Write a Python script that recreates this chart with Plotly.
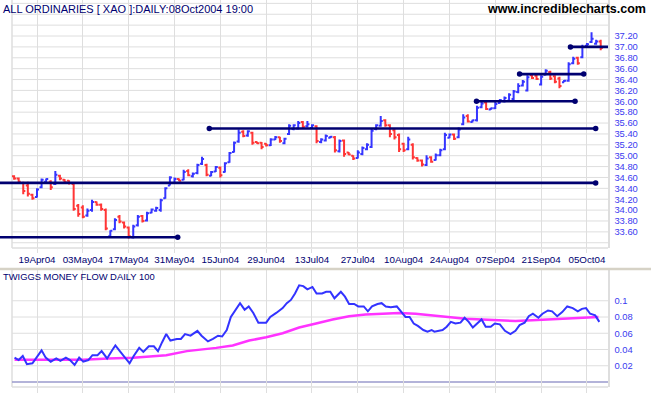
import plotly.graph_objects as go

# ---------------- data ----------------
date_labels = ["19Apr04", "03May04", "17May04", "31May04", "15Jun04", "29Jun04", "13Jul04",
               "27Jul04", "10Aug04", "24Aug04", "07Sep04", "21Sep04", "05Oct04"]
date_label_days = [0, 10, 20, 30, 40, 50, 60, 70, 80, 90, 100, 110, 120]   # trading-day index

bar_day = list(range(-5, 124))  # trading days 08Apr04 .. 08Oct04

bar_open = [
    34.62, 34.58, 34.50, 34.45, 34.28,
    34.24, 34.42, 34.52, 34.52, 34.48, 34.63, 34.56, 34.54, 34.48, 34.08,
    34.05, 33.90, 34.00, 34.15, 34.10, 34.00, 33.52, 33.65, 33.88, 33.77,
    33.68, 33.50, 33.72, 33.89, 33.81, 33.95, 33.99, 34.00, 34.22, 34.45,
    34.50, 34.57, 34.56, 34.72, 34.62, 34.68, 34.85, 34.83, 34.63, 34.71,
    34.78, 34.70, 34.88, 35.07, 35.26, 35.44, 35.37, 35.42, 35.25, 35.24,
    35.22, 35.19, 35.30, 35.34, 35.23, 35.40, 35.49, 35.50, 35.62, 35.54,
    35.51, 35.54, 35.25, 35.28, 35.33, 35.34, 35.08, 35.28, 35.06, 35.00,
    34.96, 35.03, 35.12, 35.16, 35.49, 35.55, 35.65, 35.56, 35.47, 35.38,
    35.22, 35.12, 35.20, 34.96, 34.91, 34.83, 34.97, 34.92, 35.01, 35.12,
    35.33, 35.39, 35.34, 35.58, 35.73, 35.62, 35.65, 35.89, 35.98, 35.85,
    35.87, 35.97, 36.00, 36.01, 36.04, 36.17, 36.29, 36.20, 36.48, 36.47,
    36.31, 36.49, 36.54, 36.46, 36.42, 36.35, 36.38, 36.70, 36.80, 36.81,
    37.02, 37.09, 37.06, 37.10,
]
bar_high = [
    34.64, 34.60, 34.52, 34.52, 34.30,
    34.40, 34.58, 34.58, 34.55, 34.72, 34.65, 34.57, 34.55, 34.50, 34.11,
    34.09, 34.03, 34.19, 34.16, 34.12, 34.03, 33.63, 33.85, 33.91, 33.79,
    33.70, 33.73, 33.91, 33.91, 33.97, 34.03, 34.06, 34.21, 34.42, 34.62,
    34.60, 34.58, 34.74, 34.75, 34.69, 34.85, 34.98, 34.85, 34.72, 34.81,
    34.80, 34.88, 35.07, 35.26, 35.48, 35.47, 35.47, 35.44, 35.26, 35.25,
    35.23, 35.32, 35.36, 35.35, 35.33, 35.58, 35.58, 35.64, 35.64, 35.64,
    35.58, 35.56, 35.32, 35.39, 35.36, 35.36, 35.30, 35.30, 35.07, 35.01,
    35.10, 35.17, 35.23, 35.50, 35.58, 35.73, 35.67, 35.58, 35.49, 35.41,
    35.24, 35.35, 35.23, 34.97, 34.93, 35.01, 34.99, 35.04, 35.13, 35.42,
    35.41, 35.41, 35.52, 35.76, 35.76, 35.66, 35.92, 36.01, 36.01, 35.88,
    35.99, 36.04, 36.09, 36.15, 36.21, 36.33, 36.39, 36.48, 36.50, 36.50,
    36.48, 36.59, 36.56, 36.48, 36.45, 36.39, 36.72, 36.82, 36.82, 37.04,
    37.07, 37.27, 37.13, 37.13,
]
bar_low = [
    34.56, 34.49, 34.29, 34.25, 34.19,
    34.23, 34.40, 34.50, 34.37, 34.46, 34.55, 34.49, 34.47, 33.99, 33.88,
    33.85, 33.88, 33.97, 34.08, 33.99, 33.63, 33.50, 33.63, 33.76, 33.66,
    33.48, 33.48, 33.70, 33.77, 33.79, 33.94, 33.97, 33.97, 34.21, 34.45,
    34.48, 34.53, 34.55, 34.62, 34.60, 34.66, 34.83, 34.62, 34.62, 34.70,
    34.60, 34.69, 34.87, 35.06, 35.24, 35.34, 35.35, 35.20, 35.22, 35.12,
    35.17, 35.18, 35.29, 35.24, 35.21, 35.38, 35.47, 35.48, 35.50, 35.52,
    35.50, 35.23, 35.23, 35.26, 35.32, 35.06, 35.06, 34.98, 35.01, 34.92,
    34.95, 35.01, 35.10, 35.14, 35.47, 35.53, 35.53, 35.34, 35.30, 35.07,
    35.07, 35.10, 34.93, 34.89, 34.80, 34.81, 34.87, 34.91, 34.99, 35.10,
    35.32, 35.29, 35.32, 35.56, 35.61, 35.61, 35.63, 35.87, 35.84, 35.84,
    35.86, 35.96, 35.98, 35.99, 36.02, 36.15, 36.27, 36.18, 36.41, 36.39,
    36.29, 36.48, 36.39, 36.33, 36.24, 36.35, 36.36, 36.68, 36.67, 36.79,
    37.01, 37.07, 37.04, 36.94,
]
bar_close = [
    34.58, 34.52, 34.35, 34.30, 34.22,
    34.38, 34.56, 34.57, 34.42, 34.65, 34.58, 34.52, 34.50, 34.02, 33.93,
    33.88, 33.99, 34.15, 34.10, 34.02, 33.66, 33.62, 33.82, 33.79, 33.70,
    33.52, 33.70, 33.88, 33.80, 33.94, 34.01, 34.04, 34.18, 34.40, 34.60,
    34.57, 34.54, 34.70, 34.64, 34.67, 34.83, 34.94, 34.65, 34.70, 34.79,
    34.64, 34.86, 35.05, 35.24, 35.42, 35.36, 35.45, 35.24, 35.23, 35.16,
    35.19, 35.30, 35.34, 35.27, 35.31, 35.55, 35.56, 35.60, 35.53, 35.58,
    35.56, 35.27, 35.30, 35.36, 35.35, 35.10, 35.27, 35.03, 35.02, 34.95,
    35.06, 35.14, 35.20, 35.46, 35.56, 35.64, 35.56, 35.40, 35.34, 35.12,
    35.10, 35.30, 34.97, 34.91, 34.84, 34.95, 34.89, 35.01, 35.10, 35.38,
    35.39, 35.31, 35.48, 35.70, 35.63, 35.65, 35.88, 35.96, 35.86, 35.87,
    35.95, 36.02, 36.06, 36.12, 36.18, 36.28, 36.36, 36.44, 36.43, 36.41,
    36.45, 36.56, 36.42, 36.36, 36.28, 36.38, 36.68, 36.78, 36.70, 37.00,
    37.05, 37.15, 37.10, 36.98,
]

price_ticks = [33.6, 33.8, 34.0, 34.2, 34.4, 34.6, 34.8, 35.0, 35.2, 35.4, 35.6,
               35.8, 36.0, 36.2, 36.4, 36.6, 36.8, 37.0, 37.2]

# support / resistance lines (price, start day, end day, dot at start)
level_price = [34.5, 33.5, 35.5, 36.0, 36.5, 37.0]
level_start = [-8.08, -8.08, 37.6, 95.9, 105.3, 116.4]
level_end = [121.9, 30.7, 121.9, 117.4, 119.3, 124.6]
level_start_dot = [False, False, True, True, True, True]

# Twiggs Money Flow (day position, value)
tmf_day = [-4.9, -4.0, -3.1, -2.2, -1.0, 0.1, 1.0, 1.9, 3.0, 4.2,
           5.1, 6.3, 7.2, 8.2, 9.2, 10.1, 11.2, 12.1, 13.2, 14.1,
           15.3, 16.4, 17.1, 18.2, 19.1, 20.2, 21.1, 22.3, 23.2, 24.4,
           25.5, 26.4, 27.3, 28.2, 29.1, 30.5, 31.4, 32.3, 33.5, 35.0,
           35.9, 37.3, 38.4, 39.5, 40.4, 41.4, 42.3, 43.2, 44.3, 45.3,
           46.2, 47.2, 48.3, 50.0, 50.9, 52.2, 53.6, 54.5, 55.4, 56.3,
           57.2, 58.1, 59.0, 60.1, 61.0, 62.2, 63.1, 64.0, 64.9, 66.3,
           67.2, 68.1, 69.2, 70.1, 71.3, 72.2, 73.1, 74.3, 75.2, 76.1,
           77.2, 78.5, 79.5, 80.4, 81.3, 82.2, 83.1, 84.3, 85.2, 86.1,
           86.7, 87.6, 88.5, 89.4, 90.3, 91.3, 92.4, 93.3, 94.2, 95.1,
           96.1, 97.0, 97.9, 99.0, 99.9, 101.0, 102.1, 103.3, 104.4, 105.3,
           106.4, 107.3, 108.2, 109.4, 110.3, 111.5, 112.4, 113.5, 114.6, 115.7,
           116.9, 118.0, 118.9, 119.8, 120.7, 121.8, 122.7]
tmf_val = [0.030, 0.027, 0.032, 0.022, 0.023, 0.032, 0.039, 0.030, 0.025, 0.029,
           0.026, 0.030, 0.027, 0.021, 0.030, 0.025, 0.027, 0.033, 0.033, 0.038,
           0.029, 0.039, 0.045, 0.037, 0.030, 0.023, 0.032, 0.042, 0.037, 0.044,
           0.044, 0.038, 0.049, 0.059, 0.051, 0.053, 0.053, 0.059, 0.057, 0.063,
           0.057, 0.050, 0.053, 0.057, 0.056, 0.064, 0.080, 0.088, 0.097, 0.089,
           0.093, 0.085, 0.073, 0.073, 0.080, 0.085, 0.091, 0.097, 0.101, 0.109,
           0.119, 0.118, 0.114, 0.117, 0.109, 0.109, 0.111, 0.111, 0.103, 0.111,
           0.105, 0.096, 0.096, 0.093, 0.093, 0.087, 0.093, 0.096, 0.097, 0.093,
           0.092, 0.093, 0.086, 0.080, 0.080, 0.072, 0.069, 0.064, 0.062, 0.064,
           0.062, 0.063, 0.064, 0.068, 0.074, 0.072, 0.073, 0.079, 0.074, 0.067,
           0.072, 0.077, 0.068, 0.068, 0.072, 0.071, 0.063, 0.059, 0.063, 0.070,
           0.073, 0.081, 0.084, 0.079, 0.084, 0.088, 0.087, 0.081, 0.086, 0.093,
           0.091, 0.087, 0.090, 0.091, 0.084, 0.082, 0.074]

# signal line (moving average of TMF)
sig_day = [-4.9, 1.0, 10.1, 15.5, 21.0, 28.2, 32.7, 39.1, 42.7, 46.3, 50.0, 53.6, 57.2,
           60.9, 64.5, 68.1, 71.7, 75.4, 79.0, 82.6, 86.3, 89.9, 93.5, 97.1, 100.8,
           104.4, 108.0, 111.6, 115.3, 118.9, 122.5]
sig_val = [0.0275, 0.0275, 0.0275, 0.029, 0.030, 0.033, 0.038, 0.042, 0.045, 0.051,
           0.055, 0.060, 0.067, 0.072, 0.077, 0.081, 0.083, 0.084, 0.085, 0.084,
           0.082, 0.080, 0.078, 0.077, 0.076, 0.075, 0.076, 0.077, 0.078, 0.079, 0.080]

mf_ticks = [0.02, 0.04, 0.06, 0.08, 0.1]
mf_tick_text = ["0.02", "0.04", "0.06", "0.08", "0.1"]

# ---------------- styling / layout ----------------
W, H = 651, 395
PLOT_R = 608                 # right edge of plot area in px
PX_PER_DAY = 4.583
DAY0_PX = 37                 # pixel of day 0
def px_to_day(px):
    return (px - DAY0_PX) / PX_PER_DAY

X_RANGE = [px_to_day(0), px_to_day(PLOT_R)]
FRAME_LEFT = px_to_day(12)

# top panel: px 0..248 ; price 37.0 at px 46.9, 54.4 px per point
TOP_RANGE = [37.0 - (248 - 46.9) / 54.4, 37.0 + 46.9 / 54.4]
# bottom panel: px 270..387 ; zero at px 382, 16.25 px per 0.02
BOT_RANGE = [(382 - 387) / 16.25 * 0.02, (382 - 270) / 16.25 * 0.02]

BLUE = "#3535FF"
RED = "#FF3535"
NAVY = "#000070"
GRID = "#DEDEDE"
LABEL_BLUE = "#3A3AF0"
FONT = "Liberation Sans, Arial, sans-serif"

fig = go.Figure()

fig.add_trace(go.Ohlc(
    x=bar_day, open=bar_open, high=bar_high, low=bar_low, close=bar_close,
    increasing=dict(line=dict(color=BLUE, width=2)),
    decreasing=dict(line=dict(color=RED, width=2)),
    tickwidth=0.45, hoverinfo="skip", showlegend=False,
    xaxis="x", yaxis="y",
))

for p, x0, x1, dot0 in zip(level_price, level_start, level_end, level_start_dot):
    fig.add_trace(go.Scatter(
        x=[x0, x1], y=[p, p], mode="lines", line=dict(color=NAVY, width=2.6),
        hoverinfo="skip", showlegend=False, xaxis="x", yaxis="y",
    ))
    dots_x = ([x0] if dot0 else []) + [x1]
    fig.add_trace(go.Scatter(
        x=dots_x, y=[p] * len(dots_x), mode="markers",
        marker=dict(color=NAVY, size=5.5), cliponaxis=False,
        hoverinfo="skip", showlegend=False, xaxis="x", yaxis="y",
    ))

fig.add_trace(go.Scatter(
    x=sig_day, y=sig_val, mode="lines", line=dict(color="#FF33FF", width=2.5),
    hoverinfo="skip", showlegend=False, xaxis="x2", yaxis="y2",
))
fig.add_trace(go.Scatter(
    x=tmf_day, y=tmf_val, mode="lines", line=dict(color="#3333FF", width=2),
    hoverinfo="skip", showlegend=False, xaxis="x2", yaxis="y2",
))

shapes = []
# horizontal gridlines top
g = 33.4
while g < TOP_RANGE[1]:
    shapes.append(dict(type="line", xref="x", yref="y", x0=FRAME_LEFT, x1=X_RANGE[1],
                       y0=g, y1=g, line=dict(color=GRID, width=1), layer="below"))
    g = round(g + 0.2, 2)
# horizontal gridlines bottom
for v in mf_ticks:
    shapes.append(dict(type="line", xref="x2", yref="y2", x0=FRAME_LEFT, x1=X_RANGE[1],
                       y0=v, y1=v, line=dict(color=GRID, width=1), layer="below"))
# frames
shapes.append(dict(type="line", xref="x", yref="y domain", x0=FRAME_LEFT, x1=FRAME_LEFT,
                   y0=0, y1=1, line=dict(color=GRID, width=1.5), layer="below"))
shapes.append(dict(type="line", xref="x", yref="y domain", x0=FRAME_LEFT, x1=X_RANGE[1],
                   y0=0, y1=0, line=dict(color=GRID, width=1.5), layer="below"))
shapes.append(dict(type="line", xref="x2", yref="y2 domain", x0=FRAME_LEFT, x1=FRAME_LEFT,
                   y0=0, y1=1, line=dict(color=GRID, width=1.5), layer="below"))
shapes.append(dict(type="line", xref="x2", yref="y2 domain", x0=FRAME_LEFT, x1=X_RANGE[1],
                   y0=0, y1=0, line=dict(color=GRID, width=1.5), layer="below"))
# zero line in money flow panel
shapes.append(dict(type="line", xref="x2", yref="y2", x0=FRAME_LEFT, x1=X_RANGE[1],
                   y0=0, y1=0, line=dict(color="#9A9ACC", width=1.5), layer="below"))
# separator between panels
shapes.append(dict(type="line", xref="paper", yref="paper", x0=0, x1=W / PLOT_R,
                   y0=1 - 269 / H, y1=1 - 269 / H, line=dict(color="#D6D2C6", width=2.5)))

annotations = [
    dict(text="ALL ORDINARIES [ XAO ]:DAILY:08Oct2004 19:00", xref="paper", yref="paper",
         x=1 / PLOT_R, y=1 - 9 / H, xanchor="left", yanchor="middle", showarrow=False,
         font=dict(family=FONT, size=11, color=NAVY)),
    dict(text="<b>www.incrediblecharts.com</b>", xref="paper", yref="paper",
         x=648 / PLOT_R, y=1 - 9 / H, xanchor="right", yanchor="middle", showarrow=False,
         font=dict(family=FONT, size=12.5, color="#000000")),
    dict(text="TWIGGS MONEY FLOW DAILY 100", xref="paper", yref="paper",
         x=1 / PLOT_R, y=1 - 276 / H, xanchor="left", yanchor="middle", showarrow=False,
         font=dict(family=FONT, size=9.4, color=NAVY)),
]

fig.update_layout(
    width=W, height=H,
    margin=dict(l=0, r=W - PLOT_R, t=0, b=0, pad=0),
    paper_bgcolor="white", plot_bgcolor="white",
    showlegend=False, hovermode=False, dragmode=False,
    shapes=shapes, annotations=annotations,
    xaxis=dict(
        domain=[0, 1], range=X_RANGE, anchor="y",
        tickmode="array", tickvals=date_label_days, ticktext=date_labels,
        showgrid=True, gridcolor=GRID, gridwidth=1, zeroline=False, showline=False,
        ticks="outside", ticklen=4, tickcolor=GRID, ticklabelstandoff=-2,
        tickfont=dict(family=FONT, size=9.8, color=NAVY),
        rangeslider=dict(visible=False), fixedrange=True,
    ),
    yaxis=dict(
        domain=[1 - 248 / H, 1], range=TOP_RANGE, anchor="x", side="right",
        tickmode="array", tickvals=price_ticks, ticktext=["%.2f" % t for t in price_ticks],
        showgrid=False, zeroline=False, showline=True, linecolor=GRID, linewidth=1.5,
        ticks="", ticklabelstandoff=3, fixedrange=True,
        tickfont=dict(family=FONT, size=9.4, color=LABEL_BLUE),
    ),
    xaxis2=dict(
        domain=[0, 1], range=X_RANGE, anchor="y2", matches="x",
        tickmode="array", tickvals=date_label_days, showticklabels=False,
        showgrid=True, gridcolor=GRID, gridwidth=1, zeroline=False, showline=False,
        ticks="outside", ticklen=5, tickcolor=GRID, fixedrange=True,
    ),
    yaxis2=dict(
        domain=[1 - 387 / H, 1 - 270 / H], range=BOT_RANGE, anchor="x2", side="right",
        tickmode="array", tickvals=mf_ticks, ticktext=mf_tick_text,
        showgrid=False, zeroline=False, showline=True, linecolor=GRID, linewidth=1.5,
        ticks="", ticklabelstandoff=3, fixedrange=True,
        tickfont=dict(family=FONT, size=9.4, color=LABEL_BLUE),
    ),
)

fig.write_html("out.html", config={"displayModeBar": False, "staticPlot": True},
               post_script="document.body.style.margin='0';document.body.style.overflow='hidden';")
